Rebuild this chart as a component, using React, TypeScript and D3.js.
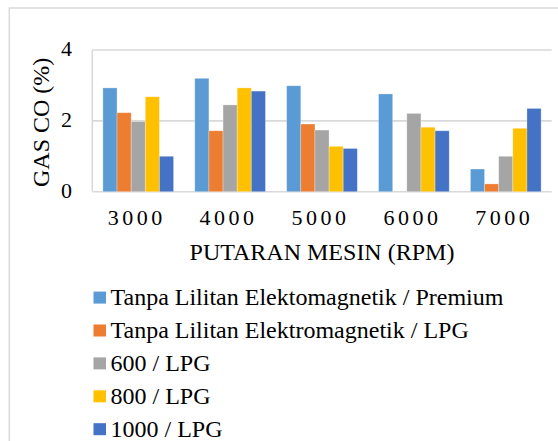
import React from "react";
import * as d3 from "d3";

const categories = ["3000", "4000", "5000", "6000", "7000"];
const seriesNames = [
  "Tanpa Lilitan Elektomagnetik / Premium",
  "Tanpa Lilitan Elektromagnetik / LPG",
  "600 / LPG",
  "800 / LPG",
  "1000 / LPG",
];
const premium = [2.93, 3.2, 2.99, 2.76, 0.64];
const lpgTanpa = [2.23, 1.72, 1.91, 0, 0.22];
const lpg600 = [1.98, 2.45, 1.74, 2.21, 1.0];
const lpg800 = [2.68, 2.93, 1.28, 1.82, 1.79];
const lpg1000 = [1.0, 2.84, 1.22, 1.72, 2.35];
const seriesValues = [premium, lpgTanpa, lpg600, lpg800, lpg1000];
const colors = ["#5B9BD5", "#ED7D31", "#A5A5A5", "#FFC000", "#4472C4"];
const yTicks = [0, 2, 4];

const W = 558;
const H = 441;
const FONT = "'Liberation Serif', 'Times New Roman', Times, 'DejaVu Serif', 'Noto Serif', serif";

export default function App() {
  const plotL = 92.3;
  const plotR = 551.7;
  const plotT = 50;
  const plotB = 191.7;

  const x0 = d3.scaleBand<string>().domain(categories).range([plotL, plotR]).padding(0);
  const x1 = d3
    .scaleBand<string>()
    .domain(seriesNames)
    .range([0, x0.bandwidth()])
    .paddingInner(0)
    .paddingOuter(0.75);
  const y = d3.scaleLinear().domain([0, 4]).range([plotB, plotT]);

  const legendY0 = 297.6;
  const legendStep = 32.9;

  return (
    <svg
      width={W}
      height={H}
      viewBox={`0 0 ${W} ${H}`}
      style={{ position: "absolute", left: 0, top: 0, display: "block", background: "#fff", fontFamily: FONT }}
    >
      <rect x={0} y={0} width={W} height={H} fill="#fff" />
      {/* outer chart border */}
      <rect x={9.3} y={8} width={W + 20} height={H + 20} fill="none" stroke="#d9d9d9" strokeWidth={1.5} />

      {/* gridlines */}
      {yTicks.map((t) => (
        <line
          key={"g" + t}
          x1={plotL}
          x2={plotR}
          y1={y(t)}
          y2={y(t)}
          stroke="#d9d9d9"
          strokeWidth={1.6}
        />
      ))}
      <line x1={plotL} x2={plotL} y1={plotT} y2={plotB} stroke="#d9d9d9" strokeWidth={1.6} />

      {/* bars */}
      {seriesValues.map((vals, si) =>
        vals.map((v, ci) => {
          const x = (x0(categories[ci]) as number) + (x1(seriesNames[si]) as number);
          const h = plotB - y(v);
          if (h <= 0) return null;
          return (
            <rect
              key={`b${si}-${ci}`}
              x={x}
              y={y(v)}
              width={x1.bandwidth()}
              height={h}
              fill={colors[si]}
              stroke="#ffffff"
              strokeOpacity={0.35}
              strokeWidth={0.8}
            />
          );
        })
      )}

      {/* y tick labels */}
      {yTicks.map((t) => (
        <text
          key={"yt" + t}
          x={72}
          y={y(t) + 6}
          textAnchor="end"
          style={{ fontFamily: FONT }}
          fontSize={22}
          fill="#000"
        >
          {t}
        </text>
      ))}

      {/* x tick labels */}
      {categories.map((c) => (
        <text
          key={"xt" + c}
          x={(x0(c) as number) + x0.bandwidth() / 2 - 1.5}
          y={225}
          textAnchor="middle"
          style={{ fontFamily: FONT }}
          fontSize={22}
          letterSpacing={3.5}
          fill="#000"
        >
          {c}
        </text>
      ))}

      {/* axis titles */}
      <text
        x={(plotL + plotR) / 2}
        y={260}
        textAnchor="middle"
        style={{ fontFamily: FONT }}
        fontSize={24}
        fill="#000"
      >
        PUTARAN MESIN (RPM)
      </text>
      <text
        transform={`translate(48.5, ${(plotT + plotB) / 2 + 1.5}) rotate(-90)`}
        textAnchor="middle"
        style={{ fontFamily: FONT }}
        fontSize={24}
        fill="#000"
      >
        GAS CO (%)
      </text>

      {/* legend */}
      {seriesNames.map((s, i) => {
        const cy = legendY0 + i * legendStep;
        return (
          <g key={"l" + i}>
            <rect x={93.5} y={cy - 6} width={12.5} height={12} fill={colors[i]} />
            <text x={110.5} y={cy + 7.5} style={{ fontFamily: FONT }} fontSize={24} fill="#000">
              {s}
            </text>
          </g>
        );
      })}
    </svg>
  );
}
